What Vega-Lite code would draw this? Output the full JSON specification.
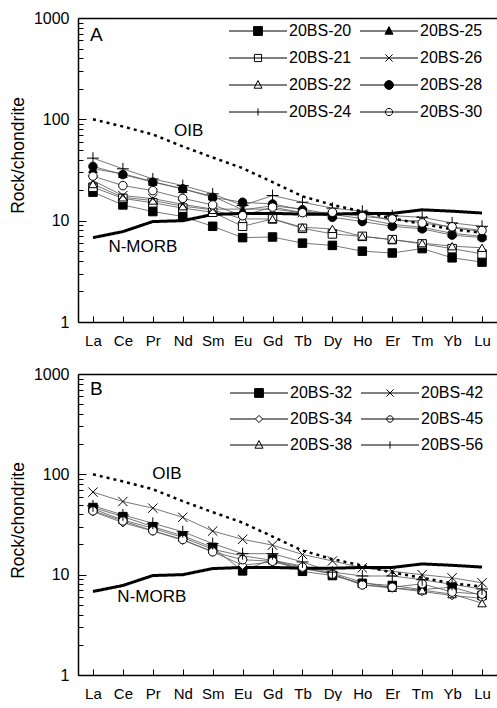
{
  "$schema": "https://vega.github.io/schema/vega-lite/v6.json",
  "padding": {"left": 9, "top": 10, "right": 0, "bottom": 0},
  "spacing": 18,
  "config": {
    "view": {"stroke": null},
    "font": "Liberation Sans",
    "axis": {"grid": false, "domainColor": "black", "tickColor": "black", "labelColor": "black", "titleColor": "black", "labelFont": "Liberation Sans", "titleFont": "Liberation Sans"}
  },
  "datasets": {
    "A": [
      {"sample":"20BS-20","element":"La","value":19.1},{"sample":"20BS-20","element":"Ce","value":14.3},{"sample":"20BS-20","element":"Pr","value":12.3},{"sample":"20BS-20","element":"Nd","value":11.0},{"sample":"20BS-20","element":"Sm","value":8.8},{"sample":"20BS-20","element":"Eu","value":6.8},{"sample":"20BS-20","element":"Gd","value":6.9},{"sample":"20BS-20","element":"Tb","value":6.0},{"sample":"20BS-20","element":"Dy","value":5.7},{"sample":"20BS-20","element":"Ho","value":5.0},{"sample":"20BS-20","element":"Er","value":4.8},{"sample":"20BS-20","element":"Tm","value":5.3},{"sample":"20BS-20","element":"Yb","value":4.3},{"sample":"20BS-20","element":"Lu","value":3.9},
      {"sample":"20BS-21","element":"La","value":21.4},{"sample":"20BS-21","element":"Ce","value":16.6},{"sample":"20BS-21","element":"Pr","value":15.0},{"sample":"20BS-21","element":"Nd","value":13.3},{"sample":"20BS-21","element":"Sm","value":12.1},{"sample":"20BS-21","element":"Eu","value":8.8},{"sample":"20BS-21","element":"Gd","value":10.4},{"sample":"20BS-21","element":"Tb","value":8.4},{"sample":"20BS-21","element":"Dy","value":7.4},{"sample":"20BS-21","element":"Ho","value":7.0},{"sample":"20BS-21","element":"Er","value":6.5},{"sample":"20BS-21","element":"Tm","value":5.9},{"sample":"20BS-21","element":"Yb","value":5.3},{"sample":"20BS-21","element":"Lu","value":4.7},
      {"sample":"20BS-22","element":"La","value":23.0},{"sample":"20BS-22","element":"Ce","value":17.0},{"sample":"20BS-22","element":"Pr","value":15.8},{"sample":"20BS-22","element":"Nd","value":13.9},{"sample":"20BS-22","element":"Sm","value":12.8},{"sample":"20BS-22","element":"Eu","value":10.4},{"sample":"20BS-22","element":"Gd","value":10.4},{"sample":"20BS-22","element":"Tb","value":8.6},{"sample":"20BS-22","element":"Dy","value":8.3},{"sample":"20BS-22","element":"Ho","value":7.0},{"sample":"20BS-22","element":"Er","value":6.5},{"sample":"20BS-22","element":"Tm","value":6.0},{"sample":"20BS-22","element":"Yb","value":5.6},{"sample":"20BS-22","element":"Lu","value":5.4},
      {"sample":"20BS-24","element":"La","value":41.4},{"sample":"20BS-24","element":"Ce","value":32.5},{"sample":"20BS-24","element":"Pr","value":25.8},{"sample":"20BS-24","element":"Nd","value":22.2},{"sample":"20BS-24","element":"Sm","value":18.4},{"sample":"20BS-24","element":"Eu","value":14.1},{"sample":"20BS-24","element":"Gd","value":17.7},{"sample":"20BS-24","element":"Tb","value":15.2},{"sample":"20BS-24","element":"Dy","value":13.3},{"sample":"20BS-24","element":"Ho","value":12.4},{"sample":"20BS-24","element":"Er","value":11.2},{"sample":"20BS-24","element":"Tm","value":10.8},{"sample":"20BS-24","element":"Yb","value":9.5},{"sample":"20BS-24","element":"Lu","value":8.8},
      {"sample":"20BS-25","element":"La","value":32.5},{"sample":"20BS-25","element":"Ce","value":29.0},{"sample":"20BS-25","element":"Pr","value":24.3},{"sample":"20BS-25","element":"Nd","value":20.6},{"sample":"20BS-25","element":"Sm","value":17.4},{"sample":"20BS-25","element":"Eu","value":12.8},{"sample":"20BS-25","element":"Gd","value":14.0},{"sample":"20BS-25","element":"Tb","value":13.0},{"sample":"20BS-25","element":"Dy","value":11.5},{"sample":"20BS-25","element":"Ho","value":10.5},{"sample":"20BS-25","element":"Er","value":9.2},{"sample":"20BS-25","element":"Tm","value":8.6},{"sample":"20BS-25","element":"Yb","value":7.5},{"sample":"20BS-25","element":"Lu","value":7.0},
      {"sample":"20BS-26","element":"La","value":24.9},{"sample":"20BS-26","element":"Ce","value":17.7},{"sample":"20BS-26","element":"Pr","value":16.5},{"sample":"20BS-26","element":"Nd","value":14.5},{"sample":"20BS-26","element":"Sm","value":13.0},{"sample":"20BS-26","element":"Eu","value":13.0},{"sample":"20BS-26","element":"Gd","value":13.0},{"sample":"20BS-26","element":"Tb","value":12.0},{"sample":"20BS-26","element":"Dy","value":11.5},{"sample":"20BS-26","element":"Ho","value":11.6},{"sample":"20BS-26","element":"Er","value":10.0},{"sample":"20BS-26","element":"Tm","value":10.0},{"sample":"20BS-26","element":"Yb","value":8.5},{"sample":"20BS-26","element":"Lu","value":7.8},
      {"sample":"20BS-28","element":"La","value":34.3},{"sample":"20BS-28","element":"Ce","value":28.5},{"sample":"20BS-28","element":"Pr","value":24.0},{"sample":"20BS-28","element":"Nd","value":20.6},{"sample":"20BS-28","element":"Sm","value":17.0},{"sample":"20BS-28","element":"Eu","value":15.2},{"sample":"20BS-28","element":"Gd","value":14.6},{"sample":"20BS-28","element":"Tb","value":12.8},{"sample":"20BS-28","element":"Dy","value":10.8},{"sample":"20BS-28","element":"Ho","value":9.8},{"sample":"20BS-28","element":"Er","value":8.8},{"sample":"20BS-28","element":"Tm","value":8.3},{"sample":"20BS-28","element":"Yb","value":7.2},{"sample":"20BS-28","element":"Lu","value":6.8},
      {"sample":"20BS-30","element":"La","value":27.5},{"sample":"20BS-30","element":"Ce","value":22.2},{"sample":"20BS-30","element":"Pr","value":19.8},{"sample":"20BS-30","element":"Nd","value":16.6},{"sample":"20BS-30","element":"Sm","value":14.3},{"sample":"20BS-30","element":"Eu","value":11.2},{"sample":"20BS-30","element":"Gd","value":13.6},{"sample":"20BS-30","element":"Tb","value":12.0},{"sample":"20BS-30","element":"Dy","value":12.1},{"sample":"20BS-30","element":"Ho","value":11.0},{"sample":"20BS-30","element":"Er","value":10.4},{"sample":"20BS-30","element":"Tm","value":9.5},{"sample":"20BS-30","element":"Yb","value":8.7},{"sample":"20BS-30","element":"Lu","value":8.0}
    ],
    "B": [
      {"sample":"20BS-32","element":"La","value":46.7},{"sample":"20BS-32","element":"Ce","value":37.9},{"sample":"20BS-32","element":"Pr","value":30.1},{"sample":"20BS-32","element":"Nd","value":24.4},{"sample":"20BS-32","element":"Sm","value":18.7},{"sample":"20BS-32","element":"Eu","value":10.9},{"sample":"20BS-32","element":"Gd","value":14.3},{"sample":"20BS-32","element":"Tb","value":10.8},{"sample":"20BS-32","element":"Dy","value":9.8},{"sample":"20BS-32","element":"Ho","value":8.2},{"sample":"20BS-32","element":"Er","value":7.8},{"sample":"20BS-32","element":"Tm","value":7.1},{"sample":"20BS-32","element":"Yb","value":7.5},{"sample":"20BS-32","element":"Lu","value":6.2},
      {"sample":"20BS-34","element":"La","value":42.6},{"sample":"20BS-34","element":"Ce","value":33.0},{"sample":"20BS-34","element":"Pr","value":27.2},{"sample":"20BS-34","element":"Nd","value":22.1},{"sample":"20BS-34","element":"Sm","value":16.9},{"sample":"20BS-34","element":"Eu","value":12.4},{"sample":"20BS-34","element":"Gd","value":13.4},{"sample":"20BS-34","element":"Tb","value":11.5},{"sample":"20BS-34","element":"Dy","value":10.2},{"sample":"20BS-34","element":"Ho","value":7.9},{"sample":"20BS-34","element":"Er","value":7.35},{"sample":"20BS-34","element":"Tm","value":6.8},{"sample":"20BS-34","element":"Yb","value":6.2},{"sample":"20BS-34","element":"Lu","value":5.8},
      {"sample":"20BS-38","element":"La","value":45.3},{"sample":"20BS-38","element":"Ce","value":35.1},{"sample":"20BS-38","element":"Pr","value":29.0},{"sample":"20BS-38","element":"Nd","value":23.5},{"sample":"20BS-38","element":"Sm","value":17.9},{"sample":"20BS-38","element":"Eu","value":15.4},{"sample":"20BS-38","element":"Gd","value":13.9},{"sample":"20BS-38","element":"Tb","value":12.2},{"sample":"20BS-38","element":"Dy","value":10.4},{"sample":"20BS-38","element":"Ho","value":8.4},{"sample":"20BS-38","element":"Er","value":7.4},{"sample":"20BS-38","element":"Tm","value":7.0},{"sample":"20BS-38","element":"Yb","value":6.4},{"sample":"20BS-38","element":"Lu","value":5.2},
      {"sample":"20BS-42","element":"La","value":66.5},{"sample":"20BS-42","element":"Ce","value":53.6},{"sample":"20BS-42","element":"Pr","value":46.0},{"sample":"20BS-42","element":"Nd","value":37.3},{"sample":"20BS-42","element":"Sm","value":27.2},{"sample":"20BS-42","element":"Eu","value":22.5},{"sample":"20BS-42","element":"Gd","value":19.7},{"sample":"20BS-42","element":"Tb","value":15.9},{"sample":"20BS-42","element":"Dy","value":13.7},{"sample":"20BS-42","element":"Ho","value":11.7},{"sample":"20BS-42","element":"Er","value":10.8},{"sample":"20BS-42","element":"Tm","value":10.0},{"sample":"20BS-42","element":"Yb","value":9.3},{"sample":"20BS-42","element":"Lu","value":8.3},
      {"sample":"20BS-45","element":"La","value":43.2},{"sample":"20BS-45","element":"Ce","value":34.3},{"sample":"20BS-45","element":"Pr","value":27.4},{"sample":"20BS-45","element":"Nd","value":22.4},{"sample":"20BS-45","element":"Sm","value":16.9},{"sample":"20BS-45","element":"Eu","value":14.1},{"sample":"20BS-45","element":"Gd","value":13.6},{"sample":"20BS-45","element":"Tb","value":11.9},{"sample":"20BS-45","element":"Dy","value":10.1},{"sample":"20BS-45","element":"Ho","value":7.9},{"sample":"20BS-45","element":"Er","value":7.5},{"sample":"20BS-45","element":"Tm","value":8.1},{"sample":"20BS-45","element":"Yb","value":6.7},{"sample":"20BS-45","element":"Lu","value":6.4},
      {"sample":"20BS-56","element":"La","value":48.5},{"sample":"20BS-56","element":"Ce","value":39.4},{"sample":"20BS-56","element":"Pr","value":32.5},{"sample":"20BS-56","element":"Nd","value":26.8},{"sample":"20BS-56","element":"Sm","value":20.4},{"sample":"20BS-56","element":"Eu","value":16.2},{"sample":"20BS-56","element":"Gd","value":16.2},{"sample":"20BS-56","element":"Tb","value":13.4},{"sample":"20BS-56","element":"Dy","value":10.6},{"sample":"20BS-56","element":"Ho","value":9.7},{"sample":"20BS-56","element":"Er","value":9.7},{"sample":"20BS-56","element":"Tm","value":8.9},{"sample":"20BS-56","element":"Yb","value":8.0},{"sample":"20BS-56","element":"Lu","value":7.2}
    ],
    "ref": [
      {"series":"OIB","element":"La","value":100},{"series":"OIB","element":"Ce","value":85},{"series":"OIB","element":"Pr","value":71},{"series":"OIB","element":"Nd","value":54},{"series":"OIB","element":"Sm","value":42},{"series":"OIB","element":"Eu","value":33},{"series":"OIB","element":"Gd","value":24},{"series":"OIB","element":"Tb","value":17.4},{"series":"OIB","element":"Dy","value":14.3},{"series":"OIB","element":"Ho","value":12.3},{"series":"OIB","element":"Er","value":10.5},{"series":"OIB","element":"Tm","value":9.3},{"series":"OIB","element":"Yb","value":8.2},{"series":"OIB","element":"Lu","value":7.6},
      {"series":"N-MORB","element":"La","value":6.8},{"series":"N-MORB","element":"Ce","value":7.8},{"series":"N-MORB","element":"Pr","value":9.8},{"series":"N-MORB","element":"Nd","value":10.0},{"series":"N-MORB","element":"Sm","value":11.5},{"series":"N-MORB","element":"Eu","value":11.8},{"series":"N-MORB","element":"Gd","value":11.8},{"series":"N-MORB","element":"Tb","value":11.6},{"series":"N-MORB","element":"Dy","value":11.6},{"series":"N-MORB","element":"Ho","value":11.8},{"series":"N-MORB","element":"Er","value":11.8},{"series":"N-MORB","element":"Tm","value":12.8},{"series":"N-MORB","element":"Yb","value":12.4},{"series":"N-MORB","element":"Lu","value":11.9}
    ]
  },
  "resolve": {"scale": {"shape": "independent", "fill": "independent"}, "legend": {"shape": "independent"}},
  "vconcat": [
    {
      "width": 419, "height": 304,
      "data": {"name": "A"},
      "resolve": {"axis": {"x": "independent", "y": "independent"}, "scale": {"shape": "independent", "fill": "independent"}},
      "layer": [
        {
          "mark": {"type": "line", "color": "#555555", "strokeWidth": 0.8},
          "encoding": {
            "x": {"field": "element", "type": "ordinal", "sort": ["La","Ce","Pr","Nd","Sm","Eu","Gd","Tb","Dy","Ho","Er","Tm","Yb","Lu"],
                  "axis": {"orient": "bottom", "title": null, "tickSize": -6, "labelFontSize": 15, "labelPadding": 17, "labelAngle": 0, "domainWidth": 1.5}},
            "y": {"field": "value", "type": "quantitative", "scale": {"type": "log", "domain": [1, 1000], "nice": false},
                  "axis": {"orient": "left", "values": [1, 10, 100, 1000], "format": "d", "tickSize": -8, "labelFontSize": 16, "labelPadding": 17, "domainWidth": 1.5, "title": "Rock/chondrite", "titleFontSize": 17.5, "titleFontWeight": "normal", "titlePadding": 6, "titleY": 137}},
            "detail": {"field": "sample"}
          }
        },
        {
          "data": {"name": "ref"},
          "mark": {"type": "line", "color": "black"},
          "encoding": {
            "x": {"field": "element", "type": "ordinal", "sort": ["La","Ce","Pr","Nd","Sm","Eu","Gd","Tb","Dy","Ho","Er","Tm","Yb","Lu"],
                  "axis": {"orient": "top", "title": null, "ticks": false, "labels": false, "domainWidth": 1.5}},
            "y": {"field": "value", "type": "quantitative", "scale": {"type": "log", "domain": [1, 1000], "nice": false},
                  "axis": {"orient": "left", "values": [2,3,4,5,6,7,8,9,20,30,40,50,60,70,80,90,200,300,400,500,600,700,800,900], "labels": false, "domain": false, "tickSize": -5, "title": null}},
            "detail": {"field": "series"},
            "strokeDash": {"field": "series", "type": "nominal", "scale": {"domain": ["OIB", "N-MORB"], "range": [[3, 4], [1, 0]]}, "legend": null},
            "strokeWidth": {"field": "series", "type": "nominal", "scale": {"domain": ["OIB", "N-MORB"], "range": [2.5, 3]}, "legend": null}
          }
        },
        {
          "mark": {"type": "point", "opacity": 1, "stroke": "black", "strokeWidth": 1, "size": 72},
          "encoding": {
            "x": {"field": "element", "type": "ordinal", "sort": ["La","Ce","Pr","Nd","Sm","Eu","Gd","Tb","Dy","Ho","Er","Tm","Yb","Lu"], "axis": null},
            "y": {"field": "value", "type": "quantitative", "scale": {"type": "log", "domain": [1, 1000], "nice": false}, "axis": null},
            "shape": {"field": "sample", "type": "nominal",
              "scale": {"domain": ["20BS-20","20BS-21","20BS-22","20BS-24","20BS-25","20BS-26","20BS-28","20BS-30"],
                        "range": ["square","square","triangle-up","M-1.4,0H1.4M0,-1.4V1.4","triangle-up","M-1.1,-1.1L1.1,1.1M1.1,-1.1L-1.1,1.1","circle","circle"]},
              "legend": null},
            "fill": {"field": "sample", "type": "nominal",
              "scale": {"domain": ["20BS-20","20BS-21","20BS-22","20BS-24","20BS-25","20BS-26","20BS-28","20BS-30"], "range": ["black","white","white","white","black","white","black","white"]},
              "legend": null}
          }
        },
        {
          "mark": {"type": "point", "opacity": 0, "stroke": "black", "strokeWidth": 1, "size": 64},
          "encoding": {
            "x": {"field": "element", "type": "ordinal", "sort": ["La","Ce","Pr","Nd","Sm","Eu","Gd","Tb","Dy","Ho","Er","Tm","Yb","Lu"], "axis": null},
            "y": {"field": "value", "type": "quantitative", "scale": {"type": "log", "domain": [1, 1000], "nice": false}, "axis": null},
            "fill": {"field": "sample", "type": "nominal",
              "scale": {"domain": ["20BS-20","20BS-21","20BS-22","20BS-24","20BS-25","20BS-26","20BS-28","20BS-30"], "range": ["black","white","white","white","black","white","black","white"]},
              "legend": null},
            "shape": {"field": "sample", "type": "nominal",
              "scale": {"domain": ["20BS-20","20BS-21","20BS-22","20BS-24","20BS-25","20BS-26","20BS-28","20BS-30"],
                        "range": ["M-7.25,0H7.25M-1.1,-1.1H1.1V1.1H-1.1Z", "M-7.25,0H7.25M-0.9,-0.9H0.9V0.9H-0.9Z", "M-7.25,0H7.25M0,-1.1L1,0.8H-1Z", "M-7.25,0H7.25M0,-0.9V0.9", "M-7.25,0H7.25M0,-1.1L1,0.8H-1Z", "M-7.25,0H7.25M-0.9,-0.9L0.9,0.9M0.9,-0.9L-0.9,0.9", "M-7.25,0H7.25M-1.1,0A1.1,1.1,0,1,1,1.1,0A1.1,1.1,0,1,1,-1.1,0Z", "M-7.25,0H7.25M-0.9,0A0.9,0.9,0,1,1,0.9,0A0.9,0.9,0,1,1,-0.9,0Z"]},
              "legend": {"orient": "none", "legendX": 147, "legendY": 5, "columns": 2, "title": null, "padding": 0,
                "symbolSize": 64, "symbolOffset": 25, "labelOffset": 23, "columnPadding": 4, "rowPadding": 11,
                "symbolStrokeWidth": 1, "symbolOpacity": 1,
                "labelFontSize": 16, "labelColor": "black", "labelFont": "Liberation Sans"}
            }
          }
        },
        {
          "data": {"values": [{}]},
          "mark": {"type": "text", "text": "A", "fontSize": 19, "align": "left", "baseline": "middle", "dx": -3, "color": "black"},
          "encoding": {
            "x": {"datum": "La", "type": "ordinal", "axis": null},
            "y": {"datum": 680, "type": "quantitative", "scale": {"type": "log", "domain": [1, 1000], "nice": false}, "axis": null}
          }
        },
        {
          "data": {"values": [{}]},
          "mark": {"type": "text", "text": "OIB", "fontSize": 17, "align": "center", "baseline": "middle", "dx": 6, "color": "black"},
          "encoding": {
            "x": {"datum": "Nd", "type": "ordinal", "axis": null},
            "y": {"datum": 76, "type": "quantitative", "scale": {"type": "log", "domain": [1, 1000], "nice": false}, "axis": null}
          }
        },
        {
          "data": {"values": [{}]},
          "mark": {"type": "text", "text": "N-MORB", "fontSize": 17, "align": "center", "baseline": "middle", "dx": 20, "color": "black"},
          "encoding": {
            "x": {"datum": "Ce", "type": "ordinal", "axis": null},
            "y": {"datum": 5.5, "type": "quantitative", "scale": {"type": "log", "domain": [1, 1000], "nice": false}, "axis": null}
          }
        }
      ]
    },
    {
      "width": 419, "height": 301,
      "data": {"name": "B"},
      "resolve": {"axis": {"x": "independent", "y": "independent"}, "scale": {"shape": "independent", "fill": "independent"}},
      "layer": [
        {
          "mark": {"type": "line", "color": "#555555", "strokeWidth": 0.8},
          "encoding": {
            "x": {"field": "element", "type": "ordinal", "sort": ["La","Ce","Pr","Nd","Sm","Eu","Gd","Tb","Dy","Ho","Er","Tm","Yb","Lu"],
                  "axis": {"orient": "bottom", "title": null, "tickSize": -6, "labelFontSize": 15, "labelPadding": 17, "labelAngle": 0, "domainWidth": 1.5}},
            "y": {"field": "value", "type": "quantitative", "scale": {"type": "log", "domain": [1, 1000], "nice": false},
                  "axis": {"orient": "left", "values": [1, 10, 100, 1000], "format": "d", "tickSize": -8, "labelFontSize": 16, "labelPadding": 17, "domainWidth": 1.5, "title": "Rock/chondrite", "titleFontSize": 17.5, "titleFontWeight": "normal", "titlePadding": 6, "titleY": 146}},
            "detail": {"field": "sample"}
          }
        },
        {
          "data": {"name": "ref"},
          "mark": {"type": "line", "color": "black"},
          "encoding": {
            "x": {"field": "element", "type": "ordinal", "sort": ["La","Ce","Pr","Nd","Sm","Eu","Gd","Tb","Dy","Ho","Er","Tm","Yb","Lu"],
                  "axis": {"orient": "top", "title": null, "ticks": false, "labels": false, "domainWidth": 1.5}},
            "y": {"field": "value", "type": "quantitative", "scale": {"type": "log", "domain": [1, 1000], "nice": false},
                  "axis": {"orient": "left", "values": [2,3,4,5,6,7,8,9,20,30,40,50,60,70,80,90,200,300,400,500,600,700,800,900], "labels": false, "domain": false, "tickSize": -5, "title": null}},
            "detail": {"field": "series"},
            "strokeDash": {"field": "series", "type": "nominal", "scale": {"domain": ["OIB", "N-MORB"], "range": [[3, 4], [1, 0]]}, "legend": null},
            "strokeWidth": {"field": "series", "type": "nominal", "scale": {"domain": ["OIB", "N-MORB"], "range": [2.5, 3]}, "legend": null}
          }
        },
        {
          "mark": {"type": "point", "opacity": 1, "stroke": "black", "strokeWidth": 1, "size": 72},
          "encoding": {
            "x": {"field": "element", "type": "ordinal", "sort": ["La","Ce","Pr","Nd","Sm","Eu","Gd","Tb","Dy","Ho","Er","Tm","Yb","Lu"], "axis": null},
            "y": {"field": "value", "type": "quantitative", "scale": {"type": "log", "domain": [1, 1000], "nice": false}, "axis": null},
            "shape": {"field": "sample", "type": "nominal",
              "scale": {"domain": ["20BS-32","20BS-34","20BS-38","20BS-42","20BS-45","20BS-56"],
                        "range": ["square","diamond","triangle-up","M-1.1,-1.1L1.1,1.1M1.1,-1.1L-1.1,1.1","circle","M-1.4,0H1.4M0,-1.4V1.4"]},
              "legend": null},
            "fill": {"field": "sample", "type": "nominal",
              "scale": {"domain": ["20BS-32","20BS-34","20BS-38","20BS-42","20BS-45","20BS-56"], "range": ["black","white","white","white","white","white"]},
              "legend": null}
          }
        },
        {
          "mark": {"type": "point", "opacity": 0, "stroke": "black", "strokeWidth": 1, "size": 64},
          "encoding": {
            "x": {"field": "element", "type": "ordinal", "sort": ["La","Ce","Pr","Nd","Sm","Eu","Gd","Tb","Dy","Ho","Er","Tm","Yb","Lu"], "axis": null},
            "y": {"field": "value", "type": "quantitative", "scale": {"type": "log", "domain": [1, 1000], "nice": false}, "axis": null},
            "fill": {"field": "sample", "type": "nominal",
              "scale": {"domain": ["20BS-32","20BS-34","20BS-38","20BS-42","20BS-45","20BS-56"], "range": ["black","white","white","white","white","white"]},
              "legend": null},
            "shape": {"field": "sample", "type": "nominal",
              "scale": {"domain": ["20BS-32","20BS-34","20BS-38","20BS-42","20BS-45","20BS-56"],
                        "range": ["M-7.25,0H7.25M-1.1,-1.1H1.1V1.1H-1.1Z", "M-7.25,0H-0.9M0.9,0H7.25M-0.9,0L0,-0.9L0.9,0L0,0.9Z", "M-7.25,0H7.25M0,-1.1L1,0.8H-1Z", "M-7.25,0H7.25M-0.9,-0.9L0.9,0.9M0.9,-0.9L-0.9,0.9", "M-7.25,0H7.25M-0.8,0A0.8,0.8,0,1,1,0.8,0A0.8,0.8,0,1,1,-0.8,0Z", "M-7.25,0H7.25M0,-0.9V0.9"]},
              "legend": {"orient": "none", "legendX": 148, "legendY": 11, "columns": 2, "title": null, "padding": 0,
                "symbolSize": 64, "symbolOffset": 25, "labelOffset": 23, "columnPadding": 4, "rowPadding": 10,
                "symbolStrokeWidth": 1, "symbolOpacity": 1,
                "labelFontSize": 16, "labelColor": "black", "labelFont": "Liberation Sans"}
            }
          }
        },
        {
          "data": {"values": [{}]},
          "mark": {"type": "text", "text": "B", "fontSize": 19, "align": "left", "baseline": "middle", "dx": -3, "color": "black"},
          "encoding": {
            "x": {"datum": "La", "type": "ordinal", "axis": null},
            "y": {"datum": 708, "type": "quantitative", "scale": {"type": "log", "domain": [1, 1000], "nice": false}, "axis": null}
          }
        },
        {
          "data": {"values": [{}]},
          "mark": {"type": "text", "text": "OIB", "fontSize": 17, "align": "center", "baseline": "middle", "dx": 14, "color": "black"},
          "encoding": {
            "x": {"datum": "Pr", "type": "ordinal", "axis": null},
            "y": {"datum": 100, "type": "quantitative", "scale": {"type": "log", "domain": [1, 1000], "nice": false}, "axis": null}
          }
        },
        {
          "data": {"values": [{}]},
          "mark": {"type": "text", "text": "N-MORB", "fontSize": 17, "align": "center", "baseline": "middle", "dx": -1, "color": "black"},
          "encoding": {
            "x": {"datum": "Pr", "type": "ordinal", "axis": null},
            "y": {"datum": 6.0, "type": "quantitative", "scale": {"type": "log", "domain": [1, 1000], "nice": false}, "axis": null}
          }
        }
      ]
    }
  ]
}
